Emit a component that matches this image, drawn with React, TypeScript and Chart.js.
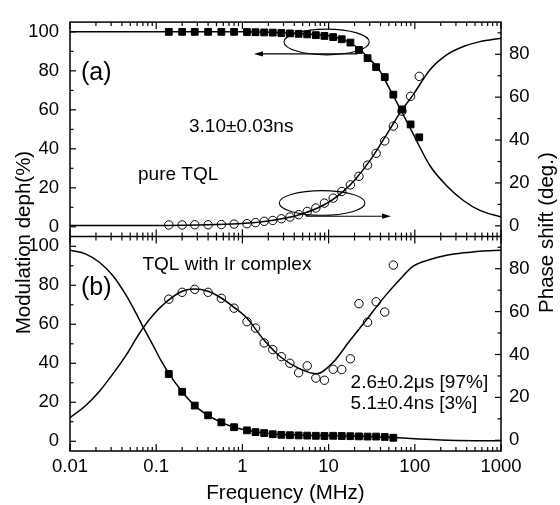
import React, { useEffect, useRef } from 'react';
import { Chart, registerables } from 'chart.js';
Chart.register(...registerables);

const FONT = '"Liberation Sans", Arial, Helvetica, sans-serif';

// ---------- data (MHz, %, deg) ----------
const freqA = [0.14, 0.2, 0.28, 0.4, 0.57, 0.8, 1.13, 1.42, 1.79, 2.25, 2.83, 3.56, 4.49, 5.65, 7.11, 8.95, 11.3, 14.2, 17.9, 22.5, 28.3, 35.6, 44.8, 56.4, 71, 89.4, 112.6];
const modA = [100, 100, 100, 100, 100, 100, 99.9, 99.8, 99.7, 99.6, 99.4, 99.2, 99.0, 98.7, 98.3, 97.9, 97.3, 96.2, 94.5, 90.7, 86.5, 81.9, 76.8, 67.8, 60.2, 52.5, 45.9];
const phaseA = [0.4, 0.4, 0.5, 0.5, 0.6, 0.8, 1.0, 1.5, 2.1, 2.5, 3.3, 4.1, 5.2, 6.7, 8.3, 10.6, 12.9, 16.0, 19.1, 23.1, 28.3, 33.8, 39.6, 46.5, 53.5, 60.4, 69.7];

const freqB = [0.14, 0.2, 0.28, 0.4, 0.57, 0.8, 1.13, 1.42, 1.79, 2.25, 2.83, 3.56, 4.49, 5.65, 7.11, 8.95, 11.3, 14.2, 17.9, 22.5, 28.3, 35.6, 44.8, 56.4];
const modB = [34.5, 25.4, 18.3, 13.3, 9.7, 7.2, 5.6, 4.7, 4.2, 3.6, 3.3, 3.1, 3.0, 2.9, 2.8, 2.7, 2.8, 2.7, 2.6, 2.5, 2.4, 2.4, 2.2, 1.8];
const phaseB = [65.8, 69.0, 70.4, 69.0, 66.2, 61.6, 55.3, 52.3, 45.4, 42.3, 39.0, 35.9, 31.5, 34.7, 29.0, 28.0, 33.1, 33.0, 38.0, 63.7, 55.0, 64.6, 59.8, 81.7];

// fitted curves
const fitModAFreq = [0.01, 1, 3, 5, 10, 15, 20, 30, 40, 50, 70, 96, 150, 234, 366, 570, 1000];
const fitModA = [100, 100, 99.5, 99.0, 98.0, 95.9, 93.0, 86.0, 79.5, 71.5, 59.3, 47.5, 31.3, 21.1, 13.5, 8.4, 5.0];
const fitPhaseAFreq = [0.01, 0.1, 0.5, 1, 2, 5, 10, 15, 20, 30, 40, 50, 70, 96, 150, 234, 366, 570, 1000];
const fitPhaseA = [0.1, 0.1, 0.6, 1.1, 2.2, 5.6, 11.0, 16.3, 21.3, 30.3, 38.0, 44.3, 53.7, 61.2, 72.8, 79.7, 83.6, 85.9, 87.5];
const fitModBFreq = [0.01, 0.0153, 0.0219, 0.0313, 0.0447, 0.0583, 0.0709, 0.091, 0.114, 0.14, 0.2, 0.28, 0.4, 0.57, 0.8, 1.13, 2, 5, 10, 20, 50, 100, 200, 500, 1000];
const fitModB = [98, 96, 91.8, 85, 74.9, 65.7, 58.4, 49.6, 41.3, 34.8, 25.4, 18.3, 13.3, 9.7, 7.2, 5.6, 4.0, 3.1, 2.9, 2.7, 2.0, 1.3, 0.7, 0.3, 0.2];
const fitPhaseBFreq = [0.01, 0.015, 0.022, 0.031, 0.045, 0.058, 0.071, 0.091, 0.13, 0.2, 0.28, 0.4, 0.55, 0.8, 1.12, 1.75, 2.8, 4.65, 7.3, 11.3, 17.6, 27.8, 43.4, 67, 96, 150, 234, 366, 570, 1000];
const fitPhaseB = [10.6, 16.0, 22.9, 30.6, 39.8, 47.2, 52.6, 58.2, 64.4, 69.5, 70.6, 69.5, 66.7, 62.0, 57.1, 47.1, 38.7, 33.3, 31.0, 36.4, 46.4, 56.4, 66.4, 75.0, 81.2, 84.3, 86.3, 87.4, 88.2, 88.6];

// ticks
const xTicks = [0.01, 0.1, 1, 10, 100, 1000];
const leftTicks = [0, 20, 40, 60, 80, 100];
const rightTicks = [0, 20, 40, 60, 80];

// texts
const xTitle = 'Frequency (MHz)';
const leftTitle = 'Modulation deph(%)';
const rightTitle = 'Phase shift (deg.)';
const notes = [
  { text: '(a)', x: 0.0134, y: 79, axis: 'ya', size: 25 },
  { text: '3.10±0.03ns', x: 0.24, y: 51.5, axis: 'ya', size: 19 },
  { text: 'pure TQL', x: 0.0615, y: 26.8, axis: 'ya', size: 19 },
  { text: '(b)', x: 0.0134, y: 78.3, axis: 'yb', size: 25 },
  { text: 'TQL with Ir complex', x: 0.0693, y: 90.5, axis: 'yb', size: 19 },
  { text: '2.6±0.2μs [97%]', x: 18.0, y: 30, axis: 'yb', size: 19 },
  { text: '5.1±0.4ns [3%]', x: 18.0, y: 19.1, axis: 'yb', size: 19 },
];
const ellipses = [
  { x1: 3.04, x2: 29.6, y1: 101.4, y2: 88.2, axis: 'ya' },
  { x1: 2.68, x2: 26.4, y1: 16.4, y2: 4.9, axis: 'ra' },
];
const arrows = [
  { from: 21.4, to: 1.36, y: 88.7, axis: 'ya' },
  { from: 5.47, to: 53, y: 4.5, axis: 'ra' },
];

const pts = (xs: number[], ys: number[]) => xs.map((x, i) => ({ x, y: ys[i] }));

const squareStyle = {
  showLine: false, pointStyle: 'rect', pointRadius: 4.8, pointBorderWidth: 1,
  backgroundColor: '#000', borderColor: '#000', order: 1,
};
const circleStyle = {
  showLine: false, pointStyle: 'circle', pointRadius: 4.2, pointBorderWidth: 1,
  backgroundColor: 'rgba(0,0,0,0)', borderColor: '#000', order: 1,
};
const lineStyle = {
  showLine: true, pointRadius: 0, borderColor: '#000', borderWidth: 1.5,
  cubicInterpolationMode: 'monotone', fill: false, order: 2,
};

const frame = {
  id: 'frame',
  afterDraw(chart: any) {
    const { ctx, chartArea: ca, scales } = chart;
    const sx = scales.x;
    const S: any = { ya: scales.ya, yb: scales.yb, ra: scales.ra, rb: scales.rb };
    const mid = scales.ya.bottom;
    const seg = (x1: number, y1: number, x2: number, y2: number) => {
      ctx.beginPath(); ctx.moveTo(x1, y1); ctx.lineTo(x2, y2); ctx.stroke();
    };
    ctx.save();
    ctx.strokeStyle = '#000';
    ctx.fillStyle = '#000';
    ctx.lineWidth = 1.5;
    ctx.strokeRect(ca.left, ca.top, ca.right - ca.left, ca.bottom - ca.top);
    seg(ca.left, mid, ca.right, mid);

    // x ticks (inward) on top, divider and bottom
    ctx.lineWidth = 1.2;
    for (let e = -2; e <= 3; e++) {
      for (let m = 1; m <= 9; m++) {
        const v = m * Math.pow(10, e);
        if (v > 1000.0001) break;
        const px = sx.getPixelForValue(v);
        const len = m === 1 ? 7 : 4;
        seg(px, ca.top, px, ca.top + len);
        seg(px, mid - len, px, mid + len);
        seg(px, ca.bottom - len, px, ca.bottom);
      }
    }
    // y ticks
    for (let v = 0; v <= 100; v += 10) {
      const len = v % 20 === 0 ? 6 : 3.5;
      for (const k of ['ya', 'yb']) {
        const py = S[k].getPixelForValue(v);
        seg(ca.left, py, ca.left + len, py);
      }
    }
    for (let v = 0; v <= 90; v += 10) {
      const len = v % 20 === 0 ? 6 : 3.5;
      for (const k of ['ra', 'rb']) {
        const py = S[k].getPixelForValue(v);
        seg(ca.right - len, py, ca.right, py);
      }
    }

    // ellipses
    ctx.lineWidth = 1.1;
    for (const el of ellipses) {
      const a = sx.getPixelForValue(el.x1), b = sx.getPixelForValue(el.x2);
      const c = S[el.axis].getPixelForValue(el.y1), d = S[el.axis].getPixelForValue(el.y2);
      ctx.beginPath();
      ctx.ellipse((a + b) / 2, (c + d) / 2, Math.abs(b - a) / 2, Math.abs(d - c) / 2, 0, 0, Math.PI * 2);
      ctx.stroke();
    }
    // arrows
    for (const ar of arrows) {
      const x1 = sx.getPixelForValue(ar.from), x2 = sx.getPixelForValue(ar.to);
      const y = S[ar.axis].getPixelForValue(ar.y);
      const dir = x2 > x1 ? 1 : -1;
      seg(x1, y, x2 - dir * 6, y);
      ctx.beginPath();
      ctx.moveTo(x2, y);
      ctx.lineTo(x2 - dir * 9, y - 2.6);
      ctx.lineTo(x2 - dir * 9, y + 2.6);
      ctx.closePath();
      ctx.fill();
    }

    // annotations
    ctx.textAlign = 'left';
    ctx.textBaseline = 'middle';
    for (const n of notes) {
      ctx.font = `${n.size}px ${FONT}`;
      ctx.fillText(n.text, sx.getPixelForValue(n.x), S[n.axis].getPixelForValue(n.y));
    }

    // axis titles
    ctx.font = `20.5px ${FONT}`;
    ctx.textAlign = 'center';
    ctx.fillText(xTitle, (ca.left + ca.right) / 2, ca.bottom + 42);
    ctx.save();
    ctx.translate(ca.left - 46, (ca.top + ca.bottom) / 2 + 6);
    ctx.rotate(-Math.PI / 2);
    ctx.fillText(leftTitle, 0, 0);
    ctx.restore();
    ctx.save();
    ctx.translate(ca.right + 46, (ca.top + ca.bottom) / 2 - 4);
    ctx.rotate(-Math.PI / 2);
    ctx.fillText(rightTitle, 0, 0);
    ctx.restore();
    ctx.restore();
  },
};

const tickFont = { family: FONT, size: 18.5 };

function yAxis(position: string, min: number, max: number, ticks: number[], pad: number, width: number) {
  return {
    type: 'linear', position, stack: position, stackWeight: 1, min, max,
    grid: { display: false, drawTicks: false },
    border: { display: false },
    ticks: { padding: pad, autoSkip: false, font: tickFont, color: '#000' },
    afterBuildTicks: (s: any) => { s.ticks = ticks.map((v) => ({ value: v })); },
    afterFit: (s: any) => { s.width = width; },
  };
}

export default function App() {
  const ref = useRef<HTMLCanvasElement>(null);
  useEffect(() => {
    const chart = new Chart(ref.current as HTMLCanvasElement, {
      type: 'scatter',
      data: {
        datasets: [
          { ...squareStyle, data: pts(freqA, modA), xAxisID: 'x', yAxisID: 'ya' },
          { ...circleStyle, data: pts(freqA, phaseA), xAxisID: 'x', yAxisID: 'ra' },
          { ...squareStyle, data: pts(freqB, modB), xAxisID: 'x', yAxisID: 'yb' },
          { ...circleStyle, data: pts(freqB, phaseB), xAxisID: 'x', yAxisID: 'rb' },
          { ...lineStyle, data: pts(fitModAFreq, fitModA), xAxisID: 'x', yAxisID: 'ya' },
          { ...lineStyle, data: pts(fitPhaseAFreq, fitPhaseA), xAxisID: 'x', yAxisID: 'ra' },
          { ...lineStyle, data: pts(fitModBFreq, fitModB), xAxisID: 'x', yAxisID: 'yb' },
          { ...lineStyle, data: pts(fitPhaseBFreq, fitPhaseB), xAxisID: 'x', yAxisID: 'rb' },
        ] as any,
      },
      options: {
        responsive: false,
        animation: false,
        events: [],
        layout: { padding: { top: 17, left: 0, right: 0, bottom: 0 } },
        plugins: { legend: { display: false }, tooltip: { enabled: false }, title: { display: false } },
        scales: {
          x: {
            type: 'logarithmic', position: 'bottom', min: 0.01, max: 1000,
            grid: { display: false, drawTicks: false },
            border: { display: false },
            ticks: { padding: 5, autoSkip: false, maxRotation: 0, font: tickFont, color: '#000', callback: (v: any) => String(v) },
            afterBuildTicks: (s: any) => { s.ticks = xTicks.map((v) => ({ value: v })); },
            afterFit: (s: any) => { s.height = 54; },
          },
          yb: yAxis('left', -5, 105, leftTicks, 11, 70),
          ya: yAxis('left', -5, 105, leftTicks, 11, 70),
          ra: yAxis('right', -5, 95, rightTicks, 8, 59),
          rb: yAxis('right', -5, 95, rightTicks, 8, 59),
        } as any,
      },
      plugins: [frame],
    } as any);
    return () => chart.destroy();
  }, []);
  return (
    <div style={{ position: 'absolute', left: 0, top: 0, width: 560, height: 505, background: '#fff' }}>
      <canvas ref={ref} width={560} height={505} style={{ display: 'block', width: 560, height: 505 }} />
    </div>
  );
}
